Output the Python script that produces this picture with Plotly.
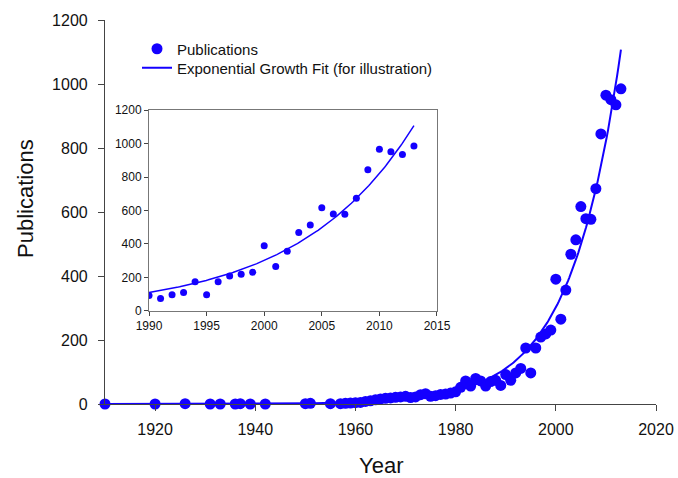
import numpy as np
import plotly.graph_objects as go

# ---- data ----
years = [1910, 1920, 1926, 1931, 1933, 1936, 1937, 1939, 1942, 1950, 1951, 1955,
         1957, 1958, 1959, 1960, 1961, 1962, 1963, 1964, 1965, 1966, 1967, 1968,
         1969, 1970, 1971, 1972, 1973, 1974, 1975, 1976, 1977, 1978, 1979, 1980,
         1981, 1982, 1983, 1984, 1985, 1986, 1987, 1988, 1989,
         1990, 1991, 1992, 1993, 1994, 1995, 1996, 1997, 1998, 1999, 2000, 2001,
         2002, 2003, 2004, 2005, 2006, 2007, 2008, 2009, 2010, 2011, 2012, 2013]
publications = [0, 0, 1, 0, 0, 0, 1, 0, 0, 1, 2, 1,
                1, 2, 3, 4, 5, 8, 10, 13, 16, 18, 19, 21,
                22, 24, 20, 22, 29, 32, 24, 26, 30, 31, 34, 38,
                52, 72, 56, 80, 72, 56, 70, 74, 58,
                92, 74, 97, 111, 175, 97, 175, 209, 219, 231, 390, 265,
                356, 468, 513, 617, 579, 577, 673, 844, 965, 951, 935, 985]

inset_start_year = 1990

# exponential fit coefficients
FIT_A = 111.0        # value at reference year
FIT_RATE = 0.100     # growth rate per year
FIT_REF_YEAR = 1990
FIT_END_YEAR = 2013

main_xticks = [1920, 1940, 1960, 1980, 2000, 2020]
main_yticks = [0, 200, 400, 600, 800, 1000, 1200]
inset_xticks = [1990, 1995, 2000, 2005, 2010, 2015]
inset_yticks = [0, 200, 400, 600, 800, 1000, 1200]

# ---- derived ----
fit_x_main = np.linspace(years[0], FIT_END_YEAR, 400)
fit_y_main = FIT_A * np.exp(FIT_RATE * (fit_x_main - FIT_REF_YEAR))
fit_x_inset = np.linspace(inset_start_year, FIT_END_YEAR, 200)
fit_y_inset = FIT_A * np.exp(FIT_RATE * (fit_x_inset - FIT_REF_YEAR))

inset_years = [y for y in years if y >= inset_start_year]
inset_pubs = [p for y, p in zip(years, publications) if y >= inset_start_year]

BLUE = "rgb(20,0,255)"
FONT = "Arial, Liberation Sans, sans-serif"
AXC = "#444444"

fig = go.Figure()
fig.add_trace(go.Scatter(x=years, y=publications, mode="markers", name="Publications",
                         marker=dict(color=BLUE, size=11), cliponaxis=False,
                         legend="legend"))
fig.add_trace(go.Scatter(x=fit_x_main, y=fit_y_main, mode="lines",
                         name="Exponential Growth Fit (for illustration)",
                         line=dict(color=BLUE, width=2), cliponaxis=False,
                         legend="legend2"))
fig.add_trace(go.Scatter(x=inset_years, y=inset_pubs, mode="markers", showlegend=False,
                         marker=dict(color=BLUE, size=7), xaxis="x2", yaxis="y2"))
fig.add_trace(go.Scatter(x=fit_x_inset, y=fit_y_inset, mode="lines", showlegend=False,
                         line=dict(color=BLUE, width=1.5), xaxis="x2", yaxis="y2"))

legend_common = dict(xanchor="left", yanchor="middle", bgcolor="rgba(0,0,0,0)",
                     font=dict(size=15, family=FONT, color="#111111"), borderwidth=0)

fig.update_layout(
    width=678, height=478, autosize=False,
    margin=dict(l=105, r=22, t=20, b=74),
    paper_bgcolor="white", plot_bgcolor="white",
    font=dict(family=FONT, color="#111111"),
    xaxis=dict(range=[1910, 2020], tickvals=main_xticks, ticks="outside", ticklen=6,
               tickcolor=AXC, showline=True, linecolor=AXC, linewidth=1.2,
               showgrid=False, zeroline=False, tickfont=dict(size=16),
               ticklabelstandoff=5, automargin=False),
    yaxis=dict(range=[0, 1200], tickvals=main_yticks, ticks="outside", ticklen=6,
               tickcolor=AXC, showline=True, linecolor=AXC, linewidth=1.2,
               showgrid=False, zeroline=False, tickfont=dict(size=16),
               ticklabelstandoff=7, automargin=False),
    xaxis2=dict(domain=[0.0799, 0.6025], anchor="y2", range=[1990, 2015],
                tickvals=inset_xticks, ticks="outside", ticklen=4, tickcolor=AXC,
                showline=True, linecolor="#777777", mirror=True, linewidth=1,
                showgrid=False, zeroline=False, tickfont=dict(size=12),
                automargin=False),
    yaxis2=dict(domain=[0.2422, 0.7656], anchor="x2", range=[0, 1200],
                tickvals=inset_yticks, ticks="outside", ticklen=4, tickcolor=AXC,
                showline=True, linecolor="#777777", mirror=True, linewidth=1,
                showgrid=False, zeroline=False, tickfont=dict(size=12),
                automargin=False),
    legend=dict(x=(137 - 105) / 551, y=(404 - 49) / 384, **legend_common),
    legend2=dict(x=(137 - 105) / 551, y=(404 - 68) / 384, **legend_common),
    annotations=[
        dict(text="Publications", xref="paper", yref="paper", x=-(105 - 25) / 551,
             y=(404 - 199) / 384, showarrow=False, textangle=-90,
             font=dict(size=22), xanchor="center", yanchor="middle"),
        dict(text="Year", xref="paper", yref="paper", x=(381 - 105) / 551,
             y=-(465 - 404) / 384, showarrow=False,
             font=dict(size=22), xanchor="center", yanchor="middle"),
    ],
)

fig.write_html("out.html", config={"displayModeBar": False},
               post_script="document.body.style.margin='0px';document.body.style.padding='0px';")
